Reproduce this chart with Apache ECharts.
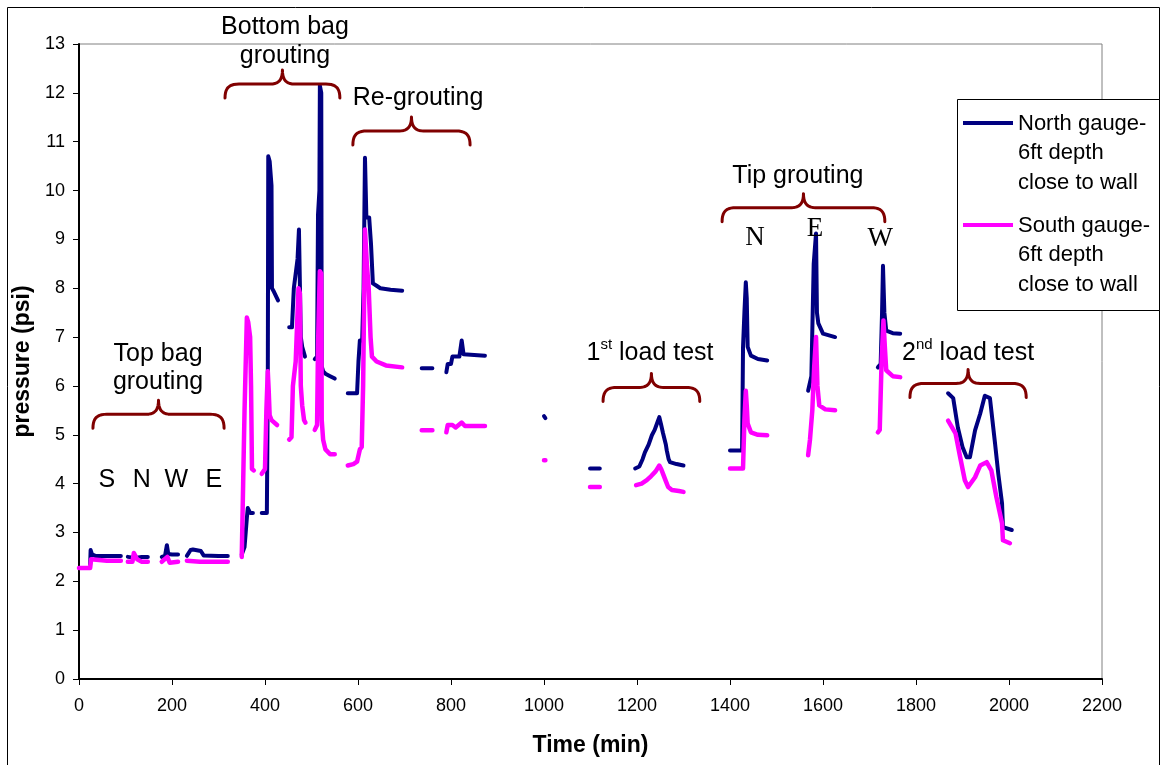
<!DOCTYPE html>
<html><head><meta charset="utf-8">
<script src="https://cdn.jsdelivr.net/npm/echarts@6/dist/echarts.min.js"></script>
<style>html,body{margin:0;padding:0;background:#fff}#c{width:1163px;height:765px}</style>
</head><body><div id="c"></div>
<script>
// ---- data (null = gap between recorded segments) ----
const northTime = [
 24,25,28,35,90, null,
 105,120,135,148, null,
 178,185,189,192,200,213, null,
 232,240,245,262,268,300,320, null,
 350,356,361,363,368,374, null,
 393,404,406,407,410,414,415,418,428, null,
 452,458,462,470,473,476,477,480,486, null,
 507,512,514,517,518,521,522,525,530,540,550, null,
 578,598,601,604,609,612,615,618,624,628,632,640,648,670,695, null,
 737,760, null,
 790,793,800,803,818,823,827,873, null,
 1000,1003, null,
 1099,1120, null,
 1196,1205,1212,1217,1225,1232,1238,1243,1248,1252,1256,1262,1264,1268,1271,1285,1300, null,
 1400,1426,1428,1431,1434,1436,1438,1445,1460,1480, null,
 1568,1575,1580,1585,1587,1590,1600,1626, null,
 1718,1724,1727,1729,1732,1736,1750,1766, null,
 1869,1880,1890,1900,1909,1916,1927,1938,1948,1959,1970,1977,1985,1987,2006
];
const northPsi = [
 2.35,2.64,2.55,2.52,2.52, null,
 2.5,2.48,2.5,2.5, null,
 2.5,2.52,2.74,2.56,2.55,2.55, null,
 2.52,2.64,2.65,2.62,2.53,2.52,2.52, null,
 2.55,2.7,3.3,3.5,3.4,3.4, null,
 3.4,3.4,6.0,10.7,10.6,10.1,8.0,7.95,7.75, null,
 7.2,7.2,8.0,8.6,9.2,9.2,7.0,6.8,6.6, null,
 6.55,6.6,9.5,10.0,12.15,12.0,6.4,6.3,6.25,6.2,6.15, null,
 5.85,5.85,6.5,6.93,6.93,8.0,10.67,9.45,9.45,8.9,8.1,8.05,8.0,7.97,7.95, null,
 6.36,6.36, null,
 6.28,6.45,6.45,6.6,6.6,6.93,6.65,6.62, null,
 5.38,5.34, null,
 4.31,4.31, null,
 4.31,4.35,4.5,4.64,4.8,4.99,5.1,5.23,5.36,5.2,5.03,4.8,4.68,4.5,4.44,4.4,4.37, null,
 4.68,4.68,6.79,7.5,8.12,7.8,6.8,6.62,6.55,6.52, null,
 5.9,6.2,8.5,9.12,7.5,7.28,7.07,7.0, null,
 6.38,6.45,7.5,8.46,7.5,7.13,7.08,7.07, null,
 5.85,5.75,5.15,4.75,4.54,4.54,5.09,5.43,5.8,5.75,4.82,4.2,3.6,3.11,3.05
];
const southTime = [
 0,24,26,30,60,90, null,
 105,115,118,125,135,148, null,
 178,190,195,213, null,
 232,260,320, null,
 350,353,356,361,364,368,370,372,376, null,
 393,400,403,406,408,410,414,426, null,
 452,457,460,466,472,475,477,480,484,487, null,
 507,512,514,517,518,521,522,525,530,540,550, null,
 578,590,598,604,608,611,615,619,623,627,630,640,660,695, null,
 737,760, null,
 790,793,803,810,823,830,873, null,
 1000,1003, null,
 1099,1120, null,
 1198,1210,1221,1230,1240,1248,1252,1256,1262,1267,1275,1290,1300, null,
 1400,1428,1431,1434,1436,1438,1445,1460,1480, null,
 1568,1572,1577,1581,1585,1588,1592,1605,1626, null,
 1718,1722,1726,1730,1733,1736,1750,1766, null,
 1869,1885,1895,1905,1912,1927,1938,1952,1962,1973,1985,1987,2002
];
const southPsi = [
 2.27,2.27,2.45,2.42,2.42,2.42, null,
 2.4,2.4,2.58,2.45,2.4,2.4, null,
 2.4,2.5,2.38,2.4, null,
 2.42,2.4,2.4, null,
 2.5,4.0,5.5,7.4,7.3,7.0,6.0,4.3,4.27, null,
 4.2,4.3,5.5,6.3,5.9,5.4,5.3,5.2, null,
 4.9,4.95,6.0,6.5,8.0,7.9,6.0,5.6,5.3,5.25, null,
 5.1,5.2,6.8,8.0,8.35,8.3,5.3,4.9,4.7,4.6,4.6, null,
 4.37,4.4,4.45,4.7,4.75,6.0,9.2,8.5,8.0,7.0,6.6,6.5,6.42,6.38, null,
 5.09,5.09, null,
 5.05,5.2,5.2,5.15,5.25,5.18,5.18, null,
 4.48,4.48, null,
 3.93,3.93, null,
 3.97,4.0,4.07,4.15,4.25,4.37,4.3,4.2,4.05,3.93,3.87,3.85,3.83, null,
 4.31,4.31,5.3,5.9,5.6,5.23,5.05,5.0,4.99, null,
 4.58,4.9,5.5,6.38,7.0,6.0,5.6,5.52,5.5, null,
 5.05,5.1,6.5,7.34,6.8,6.32,6.2,6.18, null,
 5.29,5.03,4.54,4.07,3.93,4.13,4.37,4.44,4.27,3.72,3.19,2.84,2.78
];
const seriesNames = ['North gauge-6ft depth close to wall', 'South gauge-6ft depth close to wall'];
const legendLines = [['North gauge-','6ft depth','close to wall'], ['South gauge-','6ft depth','close to wall']];
const xMin = 0, xMax = 2200, xStep = 200;
const yMin = 0, yMax = 13, yStep = 1;

// annotations (data coordinates)
const braceStart = [30, 314, 589, 1127, 1383, 1787];
const braceEnd   = [312, 561, 841, 1335, 1733, 2037];
const braceLevel = [5.42, 12.18, 11.22, 5.97, 9.65, 6.05];
const noteText = ['Top bag','grouting','S','N','W','E','Bottom bag','grouting','Re-grouting','{a|1}{s|st}{a| load test}','Tip grouting','{a|2}{s|nd}{a| load test}'];
const noteX    = [170, 170, 60, 135, 209, 290, 443, 443, 729, 1228, 1546, 1912];
const noteY    = [6.66, 6.07, 4.07, 4.07, 4.07, 4.07, 13.35, 12.76, 11.9, 6.68, 10.3, 6.68];
const tipText = ['N','E','W'];
const tipX = [1454, 1583, 1723];
const tipY = [9.04, 9.22, 9.01];

function toPairs(ts, ps) { return ts.map((t, i) => (t === null ? ['-', '-'] : [t, ps[i]])); }

const FONT = '"Liberation Sans", Arial, sans-serif';
const chart = echarts.init(document.getElementById('c'), null, { renderer: 'canvas' });
const legendIconPath = 'path://M0,13H50V17H0Z M0,0H0.01V0.01H0Z M0,90H0.01V89.99H0Z';

chart.setOption({
  animation: false,
  backgroundColor: '#fff',
  grid: { left: 79, right: 61, top: 44, bottom: 86, show: true, borderColor: '#808080', borderWidth: 1, backgroundColor: 'transparent' },
  xAxis: {
    type: 'value', min: xMin, max: xMax, interval: xStep,
    name: 'Time (min)', nameLocation: 'middle', nameGap: 55,
    nameTextStyle: { fontFamily: FONT, fontSize: 23, fontWeight: 'bold', color: '#000' },
    axisLine: { show: true, onZero: false, lineStyle: { color: '#000', width: 2 } },
    axisTick: { show: true, inside: false, length: 6, lineStyle: { color: '#000' } },
    axisLabel: { fontFamily: FONT, fontSize: 18, color: '#000', margin: 18, formatter: v => String(v) },
    splitLine: { show: false }
  },
  yAxis: {
    type: 'value', min: yMin, max: yMax, interval: yStep,
    name: 'pressure (psi)', nameLocation: 'middle', nameGap: 38, nameRotate: 90,
    nameTextStyle: { fontFamily: FONT, fontSize: 23, fontWeight: 'bold', color: '#000' },
    axisLine: { show: true, onZero: false, lineStyle: { color: '#000', width: 2 } },
    axisTick: { show: true, inside: false, length: 6, lineStyle: { color: '#000' } },
    axisLabel: { fontFamily: FONT, fontSize: 18, color: '#000', margin: 14, formatter: v => String(v) },
    splitLine: { show: false }
  },
  legend: {
    orient: 'vertical', left: 963, top: 108, padding: 0, itemGap: 12,
    itemWidth: 50, itemHeight: 90, icon: legendIconPath, z: 10,
    selectedMode: false,
    formatter: function (name) { return legendLines[seriesNames.indexOf(name)].join('\n'); },
    textStyle: { fontFamily: FONT, fontSize: 22, lineHeight: 29.5, color: '#000' },
    data: seriesNames
  },
  series: [
    { name: seriesNames[0], type: 'line', data: toPairs(northTime, northPsi), symbol: 'none', showSymbol: false,
      symbolKeepAspect: false, connectNulls: false, color: '#000080',
      lineStyle: { color: '#000080', width: 4, join: 'round', cap: 'round' }, z: 2 },
    { name: seriesNames[1], type: 'line', data: toPairs(southTime, southPsi), symbol: 'none', showSymbol: false,
      symbolKeepAspect: false, connectNulls: false, color: '#FF00FF',
      lineStyle: { color: '#FF00FF', width: 4.5, join: 'round', cap: 'round' }, z: 3 }
  ]
});

function px(x, y) { return chart.convertToPixel({ gridIndex: 0 }, [x, y]); }

// sample a cubic bezier into points
function cubic(p0, p1, p2, p3, n, out) {
  for (let k = 1; k <= n; k++) {
    const t = k / n, u = 1 - t;
    out.push([
      u*u*u*p0[0] + 3*u*u*t*p1[0] + 3*u*t*t*p2[0] + t*t*t*p3[0],
      u*u*u*p0[1] + 3*u*u*t*p1[1] + 3*u*t*t*p2[1] + t*t*t*p3[1]
    ]);
  }
}

const els = [];
els.push({ type: 'rect', silent: true, z: 1, shape: { x: 7.5, y: 7.5, width: 1152, height: 800 },
  style: { fill: 'none', stroke: '#000', lineWidth: 1 } });
els.push({ type: 'rect', silent: true, z: 5, shape: { x: 957.5, y: 99.5, width: 202, height: 211 },
  style: { fill: '#fff', stroke: '#000', lineWidth: 1 } });

for (let i = 0; i < braceStart.length; i++) {
  const a = px(braceStart[i], braceLevel[i]);
  const b = px(braceEnd[i], braceLevel[i]);
  const x0 = a[0], x1 = b[0], y = a[1], xm = (x0 + x1) / 2, h = 14;
  const pts = [[x0, y + h]];
  cubic([x0, y + h], [x0, y + 4], [x0 + 4, y], [x0 + 14, y], 10, pts);
  pts.push([xm - 12, y]);
  cubic([xm - 12, y], [xm - 4, y], [xm, y - 4], [xm, y - h], 10, pts);
  cubic([xm, y - h], [xm, y - 4], [xm + 4, y], [xm + 12, y], 10, pts);
  pts.push([x1 - 14, y]);
  cubic([x1 - 14, y], [x1 - 4, y], [x1, y + 4], [x1, y + h], 10, pts);
  els.push({ type: 'polyline', silent: true, z: 4, shape: { points: pts },
    style: { fill: null, stroke: '#800000', lineWidth: 3, lineCap: 'round', lineJoin: 'round' } });
}
for (let i = 0; i < noteText.length; i++) {
  const p = px(noteX[i], noteY[i]);
  els.push({ type: 'text', silent: true, z: 6, x: p[0], y: p[1],
    style: { text: noteText[i], fill: '#000', fontFamily: FONT, fontSize: 25,
      align: 'center', verticalAlign: 'middle', textAlign: 'center', textVerticalAlign: 'middle',
      rich: { a: { fontFamily: FONT, fontSize: 25, fill: '#000', lineHeight: 30 },
              s: { fontFamily: FONT, fontSize: 15, fill: '#000', verticalAlign: 'top', lineHeight: 30 } } } });
}
for (let i = 0; i < tipText.length; i++) {
  const p = px(tipX[i], tipY[i]);
  els.push({ type: 'text', silent: true, z: 6, x: p[0], y: p[1],
    style: { text: tipText[i], fill: '#000', fontFamily: '"Liberation Serif", "Times New Roman", serif', fontSize: 27,
      align: 'center', verticalAlign: 'middle', textAlign: 'center', textVerticalAlign: 'middle' } });
}
chart.setOption({ graphic: { elements: els } });
</script>
</body></html>
